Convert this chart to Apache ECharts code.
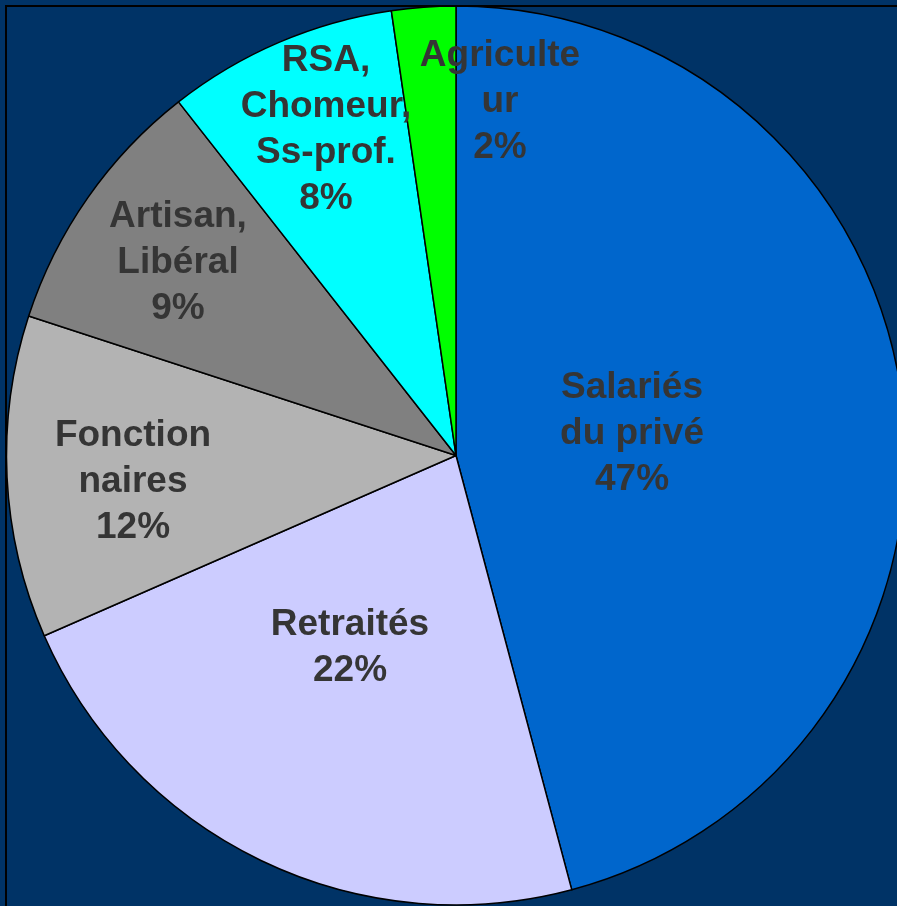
<!DOCTYPE html>
<html>
<head>
<meta charset="utf-8">
<script src="https://cdn.jsdelivr.net/npm/echarts@6/dist/echarts.min.js"></script>
<style>
  html, body { margin: 0; padding: 0; background: #003366; }
  #main { width: 897px; height: 906px; }
</style>
</head>
<body>
<div id="main"></div>
<script type="text/javascript">
// catégories (texte tel qu'affiché, avec coupures de ligne)
var categories = ['Salariés\ndu privé', 'Retraités', 'Fonction\nnaires', 'Artisan,\nLibéral', 'RSA,\nChomeur,\nSs-prof.', 'Agriculte\nur'];
// parts mesurées sur le camembert (%)
var shares = [45.9, 22.6, 11.6, 9.4, 8.3, 2.3];
// pourcentages imprimés dans les étiquettes
var pctLabels = ['47%', '22%', '12%', '9%', '8%', '2%'];
var colors = ['#0066cc', '#ccccff', '#b3b3b3', '#808080', '#00ffff', '#00ff00'];
// centre des étiquettes (px)
var labelPos = [[632, 434], [350, 648], [133, 482], [178, 263], [326, 130], [500, 102]];

var chart = echarts.init(document.getElementById('main'));

var data = [];
for (var i = 0; i < categories.length; i++) {
    data.push({
        name: categories[i],
        value: shares[i],
        itemStyle: { color: colors[i] }
    });
}

var option = {
    backgroundColor: '#003366',
    animation: false,
    graphic: [{
        type: 'rect',
        z: -1,
        shape: { x: 6, y: 6, width: 920, height: 920 },
        style: { fill: null, stroke: '#000000', lineWidth: 2 }
    }],
    series: [{
        type: 'pie',
        center: [456, 455.5],
        radius: 449.5,
        startAngle: 90,
        clockwise: true,
        data: data,
        itemStyle: { borderColor: '#000000', borderWidth: 1.5 },
        label: {
            show: true,
            position: 'inside',
            color: '#353535',
            fontFamily: 'Liberation Sans, Arial, sans-serif',
            fontWeight: 'bold',
            fontSize: 37,
            lineHeight: 46,
            align: 'center',
            formatter: function (p) {
                return p.name + '\n' + pctLabels[p.dataIndex];
            }
        },
        labelLine: { show: false },
        labelLayout: function (p) {
            var pos = labelPos[p.dataIndex];
            return { x: pos[0], y: pos[1], align: 'center', verticalAlign: 'middle' };
        },
        emphasis: { disabled: true }
    }]
};

chart.setOption(option);
</script>
</body>
</html>
